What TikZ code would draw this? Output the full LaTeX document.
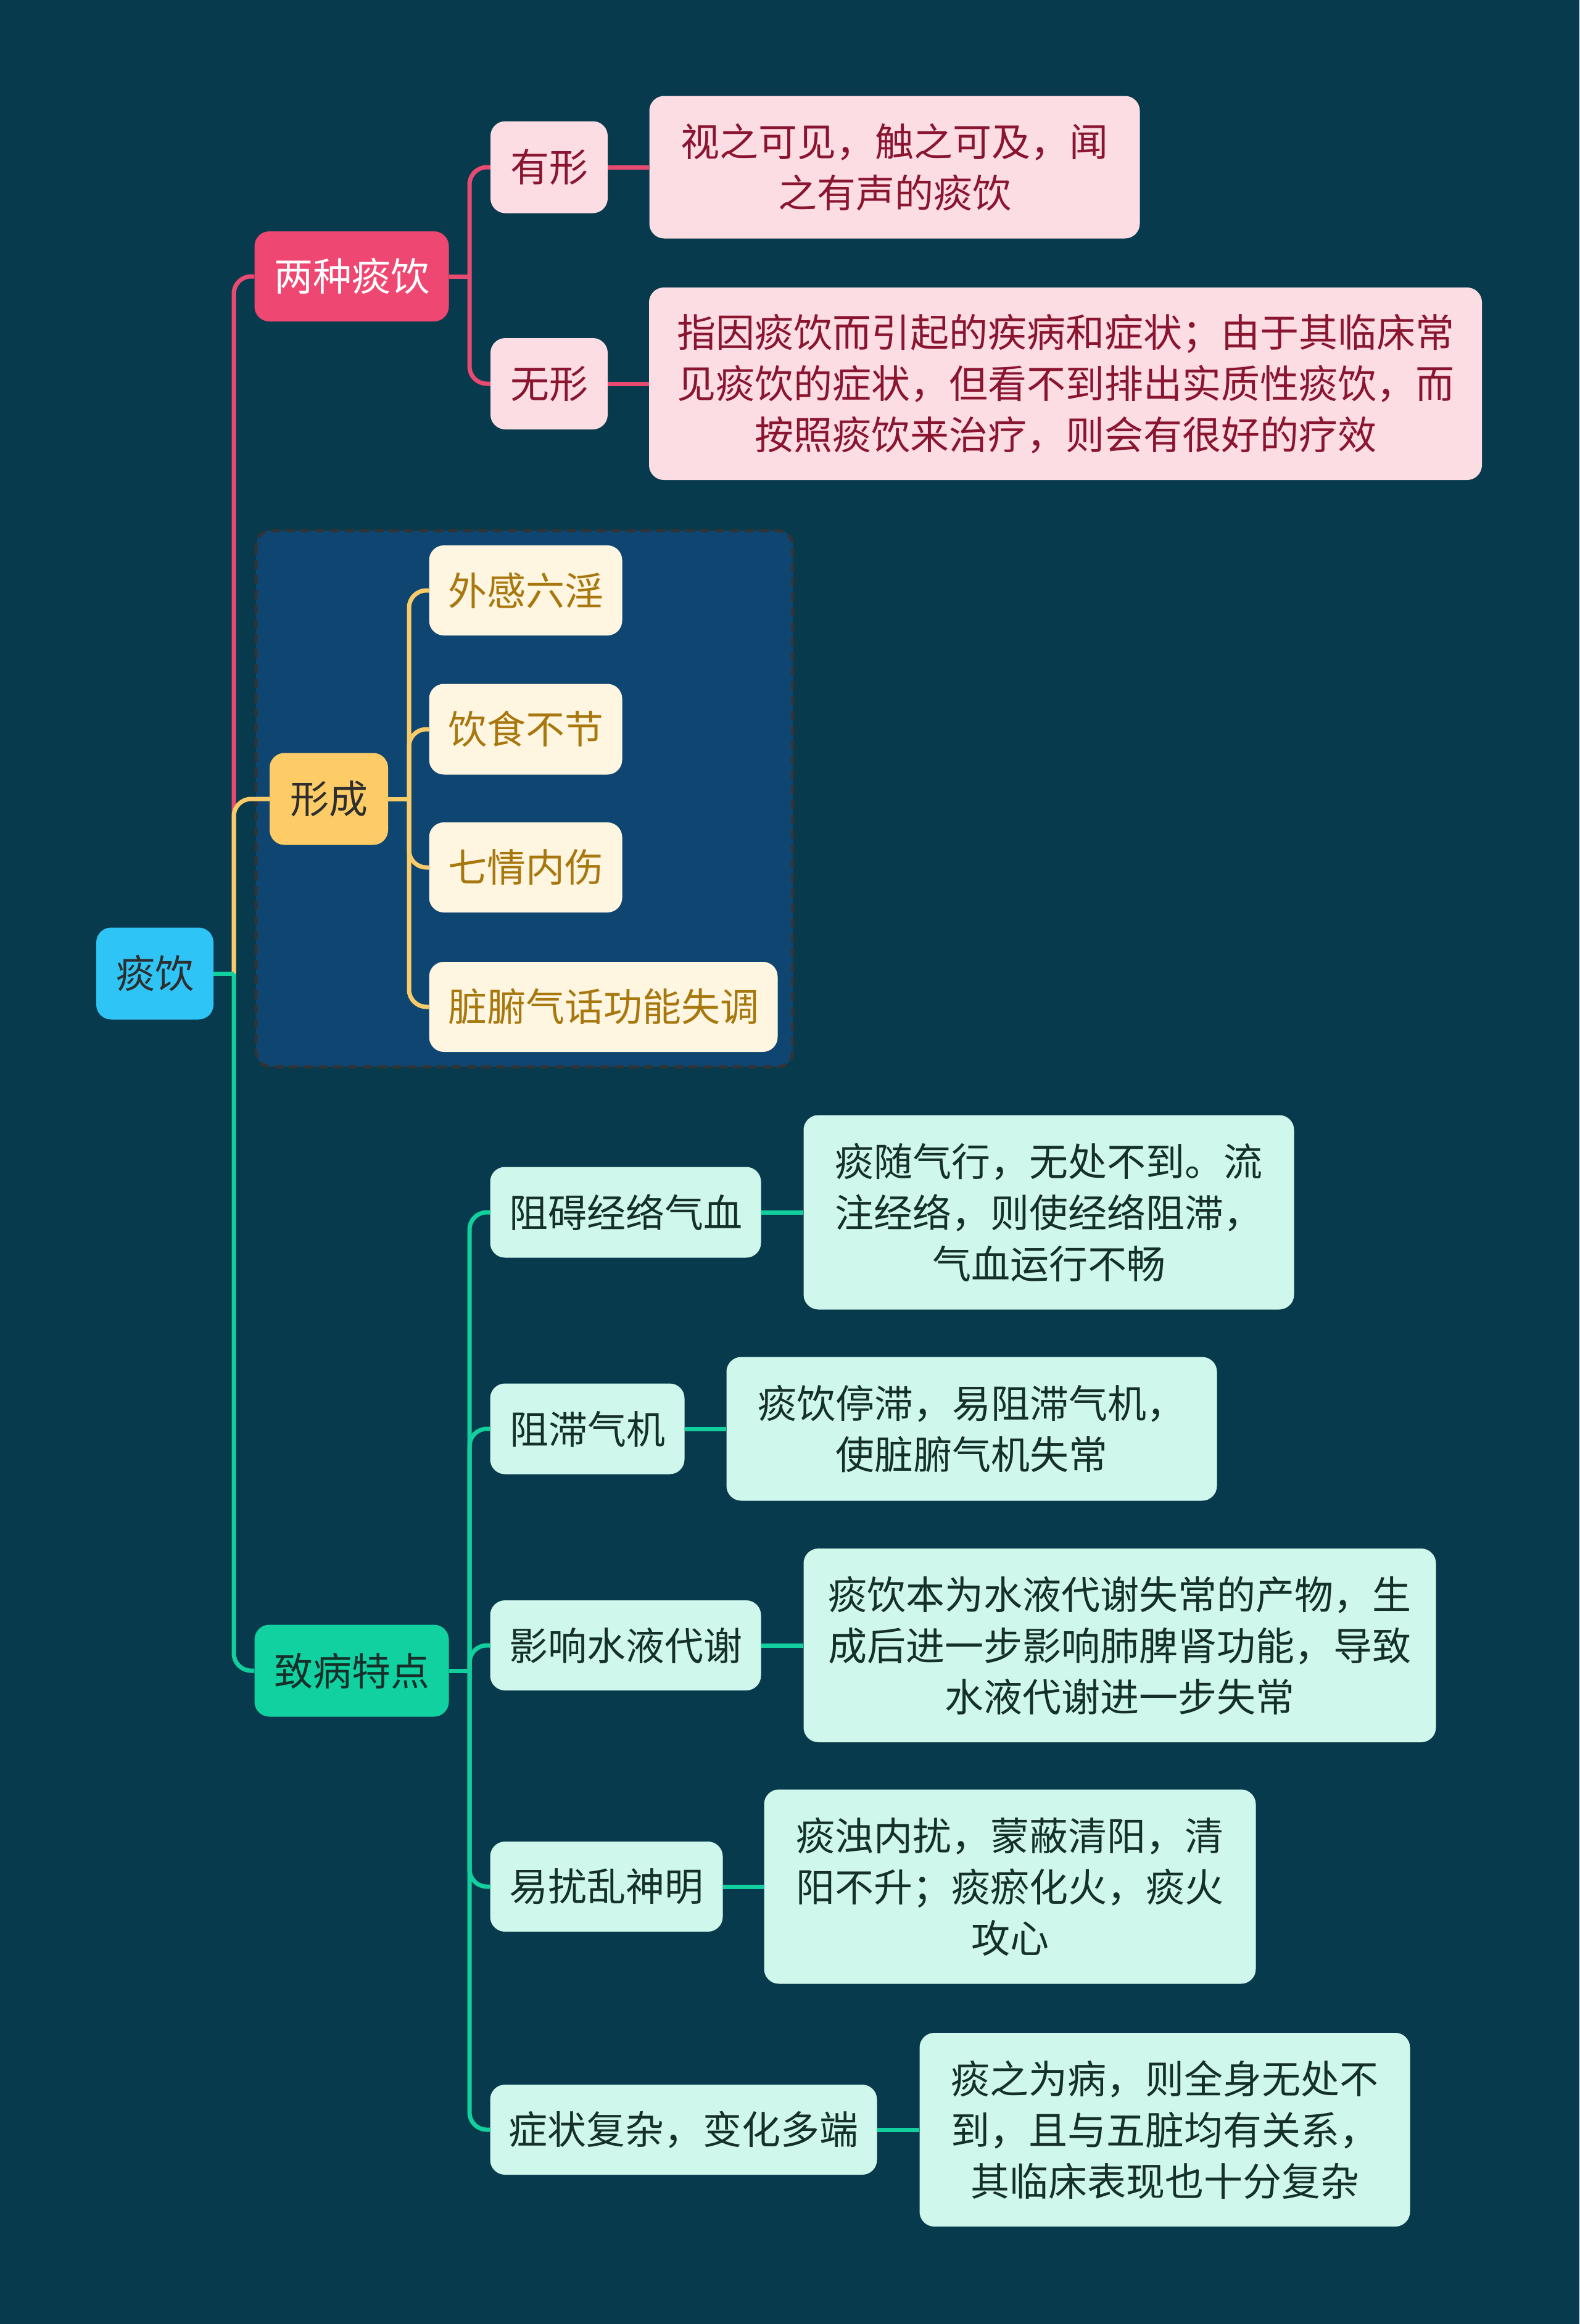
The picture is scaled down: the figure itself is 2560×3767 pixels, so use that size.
\documentclass[tikz,border=0pt]{standalone}
\usepackage{fontspec}
\setmainfont{Noto Sans CJK SC}
\definecolor{bg}{HTML}{073A4C}
\definecolor{cont}{HTML}{0F4571}
\definecolor{contline}{HTML}{333333}
\definecolor{rootfill}{HTML}{2EC4F5}
\definecolor{pinkfill}{HTML}{EE4771}
\definecolor{yelfill}{HTML}{FDCC67}
\definecolor{grnfill}{HTML}{12D1A0}
\definecolor{lpink}{HTML}{FCDDE4}
\definecolor{lyel}{HTML}{FEF6E0}
\definecolor{lgrn}{HTML}{CFF7EC}
\definecolor{pinktext}{HTML}{8A1530}
\definecolor{yeltext}{HTML}{A8770E}
\definecolor{grntext}{HTML}{15302A}
\definecolor{darktext}{HTML}{2E2E2E}
\definecolor{pinkline}{HTML}{E84A72}
\definecolor{yelline}{HTML}{F9CB69}
\definecolor{grnline}{HTML}{12CF9E}
\begin{document}
\begin{tikzpicture}[x=1pt,y=-1pt,
  box/.style={rounded corners=24pt, inner sep=0pt, align=center,
    font=\fontsize{63}{83}\selectfont},
  rootbox/.style={box, fill=rootfill, text=darktext},
  pinkmain/.style={box, fill=pinkfill, text=white},
  yelmain/.style={box, fill=yelfill, text=darktext},
  grnmain/.style={box, fill=grnfill, text=grntext},
  pinksub/.style={box, fill=lpink, text=pinktext},
  yelsub/.style={box, fill=lyel, text=yeltext},
  grnsub/.style={box, fill=lgrn, text=grntext},
  conn/.style={line width=7pt, rounded corners=28pt},
  pk/.style={conn, draw=pinkline},
  yl/.style={conn, draw=yelline},
  gn/.style={conn, draw=grnline}]
\useasboundingbox (0,0) rectangle (2560,3767);
\fill[bg] (0,0) rectangle (2560,3767);
% container
\draw[fill=cont, draw=contline, line width=5pt, dash pattern=on 15pt off 9pt, rounded corners=24pt] (415,860) rectangle (1285,1729);

% nodes
\node[rootbox, minimum width=190pt, minimum height=149pt] (root) at (251,1578) {痰饮};
\node[pinkmain, minimum width=315pt, minimum height=146pt] (two) at (570,448) {两种痰饮};
\node[yelmain, minimum width=192pt, minimum height=149pt] (form) at (533,1295) {形成};
\node[grnmain, minimum width=315pt, minimum height=149pt] (feat) at (570,2708) {致病特点};

\node[pinksub, minimum width=190pt, minimum height=149pt] (you) at (890,271) {有形};
\node[pinksub, minimum width=190pt, minimum height=148pt] (wu) at (890,622) {无形};
\node[pinksub, minimum width=795pt, minimum height=231pt] (dyou) at (1450,271) {视之可见，触之可及，闻\\之有声的痰饮};
\node[pinksub, minimum width=1350pt, minimum height=312pt] (dwu) at (1727,622) {指因痰饮而引起的疾病和症状；由于其临床常\\见痰饮的症状，但看不到排出实质性痰饮，而\\按照痰饮来治疗，则会有很好的疗效};

\node[yelsub, minimum width=313pt, minimum height=146pt] (f1) at (852,957) {外感六淫};
\node[yelsub, minimum width=313pt, minimum height=147pt] (f2) at (852,1182) {饮食不节};
\node[yelsub, minimum width=313pt, minimum height=146pt] (f3) at (852,1406) {七情内伤};
\node[yelsub, minimum width=565pt, minimum height=146pt] (f4) at (978,1632) {脏腑气话功能失调};

\node[grnsub, minimum width=439pt, minimum height=147pt] (g1) at (1014,1965) {阻碍经络气血};
\node[grnsub, minimum width=795pt, minimum height=315pt] (d1) at (1700,1965) {痰随气行，无处不到。流\\注经络，则使经络阻滞，\\气血运行不畅};
\node[grnsub, minimum width=315pt, minimum height=147pt] (g2) at (952,2316) {阻滞气机};
\node[grnsub, minimum width=795pt, minimum height=233pt] (d2) at (1575,2316) {痰饮停滞，易阻滞气机，\\使脏腑气机失常};
\node[grnsub, minimum width=439pt, minimum height=146pt] (g3) at (1014,2667) {影响水液代谢};
\node[grnsub, minimum width=1025pt, minimum height=314pt] (d3) at (1815,2667) {痰饮本为水液代谢失常的产物，生\\成后进一步影响肺脾肾功能，导致\\水液代谢进一步失常};
\node[grnsub, minimum width=377pt, minimum height=146pt] (g4) at (983,3058) {易扰乱神明};
\node[grnsub, minimum width=797pt, minimum height=315pt] (d4) at (1637,3058) {痰浊内扰，蒙蔽清阳，清\\阳不升；痰瘀化火，痰火\\攻心};
\node[grnsub, minimum width=627pt, minimum height=146pt] (g5) at (1108,3452) {症状复杂，变化多端};
\node[grnsub, minimum width=795pt, minimum height=314pt] (d5) at (1888,3452) {痰之为病，则全身无处不\\到，且与五脏均有关系，\\其临床表现也十分复杂};

% branch points
\coordinate (rb) at (379,1578);
\coordinate (tb) at (761,448);
\coordinate (fb) at (663,1295);
\coordinate (gb) at (761,2708);

% root connectors
\draw[pk, rounded corners=0pt] (root.east) -- (rb);
\draw[pk] (rb) |- (two.west);
\draw[yl] (rb) |- (form.west);
\draw[gn, rounded corners=0pt] (root.east) -- (rb);
\draw[gn] (rb) |- (feat.west);

% two kinds
\draw[pk, rounded corners=0pt] (two.east) -- (tb);
\draw[pk] (tb) |- (you.west);
\draw[pk] (tb) |- (wu.west);
\draw[pk] (you.east) -- (dyou.west);
\draw[pk] (wu.east) -- (dwu.west);

% formation
\draw[yl, rounded corners=0pt] (form.east) -- (fb);
\draw[yl] (fb) |- (f1.west);
\draw[yl] (fb) |- (f2.west);
\draw[yl] (fb) |- (f3.west);
\draw[yl] (fb) |- (f4.west);

% features
\draw[gn, rounded corners=0pt] (feat.east) -- (gb);
\draw[gn] (gb) |- (g1.west);
\draw[gn] (gb) |- (g2.west);
\draw[gn] (gb) |- (g3.west);
\draw[gn] (gb) |- (g4.west);
\draw[gn] (gb) |- (g5.west);
\draw[gn] (g1.east) -- (d1.west);
\draw[gn] (g2.east) -- (d2.west);
\draw[gn] (g3.east) -- (d3.west);
\draw[gn] (g4.east) -- (d4.west);
\draw[gn] (g5.east) -- (d5.west);
\end{tikzpicture}
\end{document}
